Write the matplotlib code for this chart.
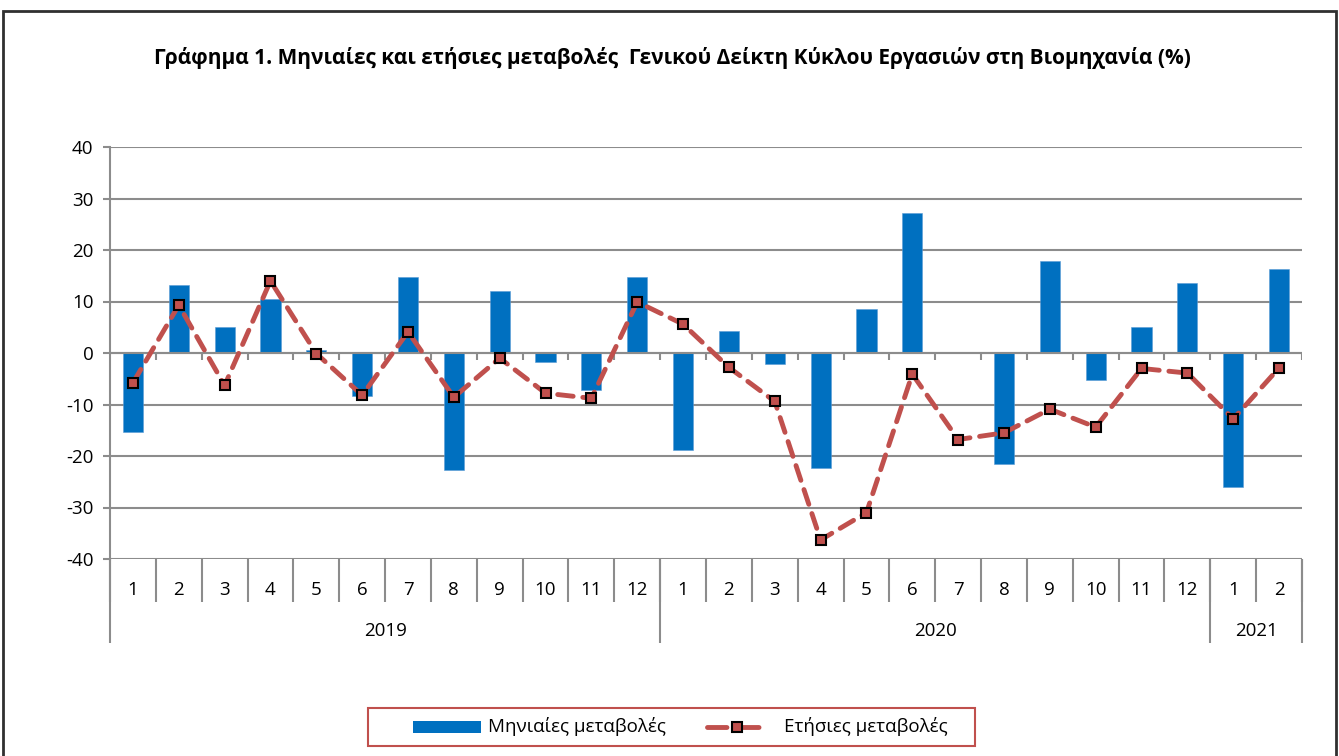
import matplotlib
matplotlib.use("Agg")
import matplotlib.pyplot as plt
from matplotlib.patches import Rectangle
from matplotlib.lines import Line2D
import numpy as np

plt.rcParams['font.family'] = ['Open Sans', 'DejaVu Sans']
plt.rcParams['axes.unicode_minus'] = False

months = ["1", "2", "3", "4", "5", "6", "7", "8", "9", "10", "11", "12",
          "1", "2", "3", "4", "5", "6", "7", "8", "9", "10", "11", "12",
          "1", "2"]
years = ["2019", "2020", "2021"]
year_counts = [12, 12, 2]
monthly = [-15.3, 13.2, 5.1, 10.5, 0.5, -8.4, 14.8, -22.7, 12.0, -1.8, -7.2, 14.8,
           -18.8, 4.3, -2.2, -22.3, 8.5, 27.2, 0.1, -21.6, 17.9, -5.2, 5.1, 13.6,
           -26.1, 16.3]
annual = [-5.8, 9.3, -6.3, 14.0, -0.1, -8.2, 4.1, -8.6, -1.0, -7.8, -8.8, 9.9,
          5.6, -2.8, -9.4, -36.3, -31.0, -4.1, -16.8, -15.5, -10.9, -14.4, -3.0, -3.9,
          -12.8, -2.9]
title = "Γράφημα 1. Μηνιαίες και ετήσιες μεταβολές  Γενικού Δείκτη Κύκλου Εργασιών στη Βιομηχανία (%)"
bar_label = "Μηνιαίες μεταβολές"
line_label = "Ετήσιες μεταβολές"

W, H = 1339, 756
fig = plt.figure(figsize=(W / 100, H / 100), dpi=100)
ax = fig.add_axes([110 / W, (H - 559) / H, 1192 / W, 412 / H])

grey = "#8c8c8c"
bar_col = "#0070c0"
line_col = "#c0504d"
fs = 13.5

n = len(months)
x = np.arange(n) + 0.5
ax.set_xlim(0, n)
ax.set_ylim(-40, 40)
ax.set_yticks(np.arange(-40, 41, 10))
ax.grid(axis='y', color=grey, linewidth=1.5, zorder=0)
ax.set_axisbelow(True)
for s in ['top', 'right', 'bottom']:
    ax.spines[s].set_visible(False)
ax.spines['left'].set_color(grey)
ax.spines['left'].set_linewidth(1.5)
ax.tick_params(axis='y', colors=grey, length=5, width=1.5, labelsize=fs, labelcolor='black', pad=7)
ax.set_xticks([])

ax.bar(x, monthly, width=0.44, color=bar_col, zorder=2, edgecolor="#5b9bd5", linewidth=0.4)
ax.axhline(0, color=grey, linewidth=1.5, zorder=3)
ax.vlines(np.arange(1, n + 1), -1.4, 0, color=grey, linewidth=1.5, zorder=3)
ax.plot(x, annual, color=line_col, linewidth=3.5, dashes=(3.2, 2.0), dash_capstyle='round',
        marker='s', markersize=7, markerfacecolor=line_col, markeredgecolor='black',
        markeredgewidth=1.5, zorder=4)

# category axis below
px = 1 / 5.15  # data units per pixel
ax.vlines(np.arange(0, n + 1), -40 - 43 * px, -40, color=grey, linewidth=1.5, clip_on=False)
for i, m in enumerate(months):
    ax.text(i + 0.5, -40 - 31 * px, m, ha='center', va='center', fontsize=fs, clip_on=False)
start = 0
bounds = [0]
for yl, c in zip(years, year_counts):
    ax.text(start + c / 2, -40 - 72 * px, yl, ha='center', va='center', fontsize=fs, clip_on=False)
    start += c
    bounds.append(start)
ax.vlines(bounds, -40 - 84 * px, -40, color=grey, linewidth=1.5, clip_on=False)

fig.text(672 / W, 1 - 58 / H, title, ha='center', va='center', fontsize=15, fontweight='bold')

# outer border
fig.add_artist(Rectangle((3 / W, -0.02), 1333 / W, 1 - 11 / H + 0.02, transform=fig.transFigure,
                         fill=False, edgecolor='#303030', linewidth=2))

# legend (drawn in figure pixel coordinates)
def fx(p):
    return p / W

def fy(p):
    return 1 - p / H

ly = 727
fig.add_artist(Rectangle((fx(368), fy(746)), fx(975 - 368), (746 - 708) / H, transform=fig.transFigure,
                         fill=False, edgecolor=line_col, linewidth=1.5))
fig.add_artist(Rectangle((fx(413), fy(ly + 6)), fx(481 - 413), 12 / H, transform=fig.transFigure,
                         facecolor=bar_col, edgecolor='none'))
fig.text(fx(488), fy(ly), bar_label, ha='left', va='center', fontsize=fs)
fig.add_artist(Line2D([fx(707), fx(767)], [fy(ly), fy(ly)], transform=fig.transFigure,
                      color=line_col, linewidth=3.5, dashes=(4.0, 2.6), dash_capstyle='round'))
fig.add_artist(Line2D([fx(737)], [fy(ly)], transform=fig.transFigure, linestyle='none',
                      marker='s', markersize=7, markerfacecolor=line_col, markeredgecolor='black',
                      markeredgewidth=1.5))
fig.text(fx(784), fy(ly), line_label, ha='left', va='center', fontsize=fs)

fig.savefig("out.png", dpi=100)
